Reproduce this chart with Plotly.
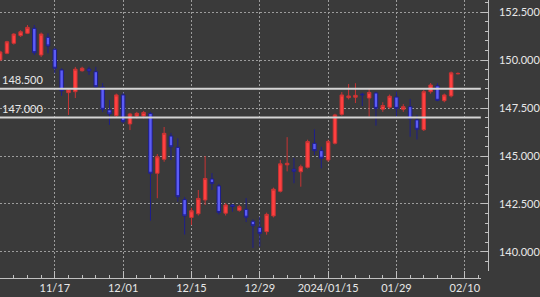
import plotly.graph_objects as go

dates = ["2023-11-07","2023-11-08","2023-11-09","2023-11-10",
         "2023-11-13","2023-11-14","2023-11-15","2023-11-16","2023-11-17",
         "2023-11-20","2023-11-21","2023-11-22","2023-11-23","2023-11-24",
         "2023-11-27","2023-11-28","2023-11-29","2023-11-30","2023-12-01",
         "2023-12-04","2023-12-05","2023-12-06","2023-12-07","2023-12-08",
         "2023-12-11","2023-12-12","2023-12-13","2023-12-14","2023-12-15",
         "2023-12-18","2023-12-19","2023-12-20","2023-12-21","2023-12-22",
         "2023-12-25","2023-12-26","2023-12-27","2023-12-28","2023-12-29",
         "2024-01-02","2024-01-03","2024-01-04","2024-01-05",
         "2024-01-08","2024-01-09","2024-01-10","2024-01-11","2024-01-12",
         "2024-01-15","2024-01-16","2024-01-17","2024-01-18","2024-01-19",
         "2024-01-22","2024-01-23","2024-01-24","2024-01-25","2024-01-26",
         "2024-01-29","2024-01-30","2024-01-31","2024-02-01","2024-02-02",
         "2024-02-05","2024-02-06","2024-02-07","2024-02-08","2024-02-09"]

opens = [150.00,150.35,150.87,151.27,151.39,151.65,150.26,151.18,150.56,
         149.48,148.30,148.35,149.44,149.53,149.39,148.58,147.40,147.10,148.18,
         146.67,147.08,147.08,147.22,144.10,144.83,146.04,145.45,142.73,141.80,
         141.99,142.71,143.80,143.44,142.02,142.45,142.17,142.22,141.60,141.28,
         141.06,141.88,143.16,144.54,144.31,144.18,144.41,145.66,145.28,
         144.79,145.66,147.17,148.04,148.06,148.22,148.02,148.28,147.43,147.54,
         148.07,147.43,147.57,146.88,146.37,148.35,148.65,147.88,148.13,149.28]
highs = [150.48,151.00,151.40,151.55,151.82,151.82,151.43,151.39,150.65,
         149.57,148.50,149.64,149.65,149.65,149.64,148.80,147.92,148.25,148.30,
         147.25,147.30,147.35,147.30,145.10,146.51,146.20,145.92,142.86,142.30,
         143.23,145.00,144.11,143.55,142.55,142.50,142.45,142.81,141.70,141.84,
         142.05,143.35,144.80,145.98,144.90,144.55,145.85,146.39,145.48,
         145.85,147.20,148.33,148.75,148.79,148.30,148.54,148.35,147.80,148.20,
         148.35,147.70,147.97,147.14,148.45,148.80,148.79,148.25,149.40,149.35]
lows = [149.95,150.30,150.80,151.20,151.35,150.26,150.15,150.35,149.31,
        148.13,147.14,148.02,149.40,149.22,148.54,147.29,146.62,147.00,146.70,
        146.35,146.95,146.95,141.63,142.80,144.70,144.79,142.62,140.91,141.41,
        141.90,142.45,143.23,141.95,141.90,142.10,142.10,141.56,140.21,140.28,
        140.90,141.80,143.10,144.20,143.58,143.40,144.35,145.05,144.36,
        144.70,145.60,147.10,147.95,147.76,147.60,147.05,146.58,147.30,147.45,
        147.05,147.30,146.00,145.86,146.30,148.25,147.85,147.80,148.05,149.25]
closes = [150.42,150.95,151.35,151.47,151.70,150.38,151.35,150.73,149.57,
          148.40,148.44,149.52,149.57,149.43,148.61,147.43,147.19,148.18,146.79,
          147.19,147.22,147.27,144.10,144.96,146.18,145.48,142.88,141.88,142.15,
          142.79,143.83,143.57,142.06,142.45,142.37,142.36,141.81,141.37,140.97,
          141.96,143.27,144.59,144.62,144.20,144.44,145.75,145.28,144.88,
          145.75,147.14,148.18,148.13,148.16,148.19,148.31,147.48,147.63,148.11,
          147.48,147.57,146.94,146.39,148.35,148.70,147.90,148.18,149.33,149.30]

tick_idx = [8, 18, 28, 38, 48, 58, 68]
tick_text = ["11/17", "12/01", "12/15", "12/29", "2024/01/15", "01/29", "02/10"]
level_lines = [148.5, 147.0]

BG = "#3a3a3a"
GRID = "#9c9c9c"
AX = "#c0c0c0"
TXT = "#e8e8e8"

xs = list(range(len(dates)))

fig = go.Figure(go.Candlestick(
    x=xs, open=opens, high=highs, low=lows, close=closes,
    text=dates, hoverinfo="text+y",
    increasing=dict(line=dict(color="#c83434", width=1), fillcolor="#ff4040"),
    decreasing=dict(line=dict(color="#1e1e8c", width=1), fillcolor="#5c5cf6"),
    showlegend=False,
))

for lv in level_lines:
    fig.add_shape(type="line", xref="x domain", x0=0, x1=1, yref="y", y0=lv, y1=lv,
                  line=dict(color="#d4d4d4", width=2), layer="above")
    fig.add_annotation(xref="paper", x=0, xanchor="left", yref="y", y=lv, yanchor="bottom",
                       yshift=1, text=f"{lv:.3f}", showarrow=False,
                       font=dict(family="Lato", size=11, color=TXT))

fig.update_layout(
    width=540, height=297,
    margin=dict(l=0, r=0, t=0, b=0),
    paper_bgcolor=BG, plot_bgcolor=BG,
    boxgap=0.27,
    xaxis=dict(
        domain=[0, 489/540], anchor="free", position=19/297,
        range=[-0.02, 70.35], rangeslider=dict(visible=False),
        tickmode="array", tickvals=tick_idx, ticktext=tick_text,
        showline=True, linecolor=AX, linewidth=1,
        ticks="inside", ticklen=7, tickcolor=AX,
        minor=dict(ticks="inside", ticklen=3, tickcolor=AX, tick0=0, dtick=2, showgrid=False),
        showgrid=True, gridcolor=GRID, griddash="2px,2px", gridwidth=1,
        zeroline=False,
        tickfont=dict(family="Lato", size=11, color=TXT),
    ),
    yaxis=dict(
        domain=[26/297, 1], side="right", anchor="free", position=496/540,
        range=[139.01, 153.125],
        tick0=0, dtick=2.5, tickformat=".3f",
        showline=True, linecolor=AX, linewidth=1,
        ticks="inside", ticklen=7, tickcolor=AX,
        minor=dict(ticks="inside", ticklen=3, tickcolor=AX, dtick=0.5, showgrid=False),
        showgrid=True, gridcolor=GRID, griddash="2px,2px", gridwidth=1,
        zeroline=False, ticklabelstandoff=8,
        tickfont=dict(family="Lato", size=11, color=TXT),
    ),
)

fig.write_html("out.html")
